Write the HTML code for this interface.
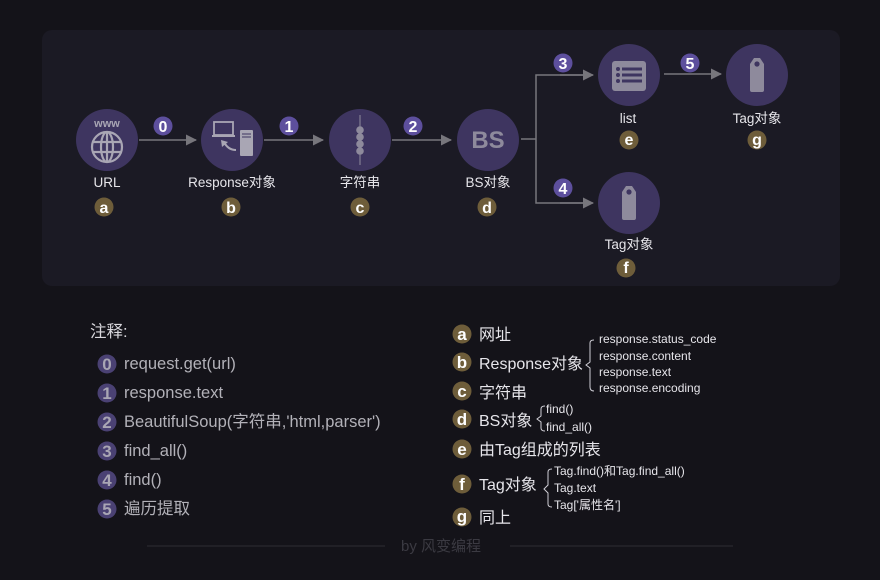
<!DOCTYPE html>
<html><head><meta charset="utf-8"><style>
html,body{margin:0;padding:0;background:#141319;}
svg{display:block;font-family:"Liberation Sans","Noto Sans CJK SC",sans-serif;}
</style></head><body>
<svg width="880" height="580" viewBox="0 0 880 580" xmlns="http://www.w3.org/2000/svg">
<defs>
<marker id="ah" markerWidth="11" markerHeight="11" refX="10" refY="5.5" orient="auto" markerUnits="userSpaceOnUse">
<path d="M0,0 L11,5.5 L0,11 Z" fill="#77767c"/></marker>
<g id="tag"><path d="M-7,-11 L-3,-17 L3,-17 L7,-11 L7,15 Q7,17 5,17 L-5,17 Q-7,17 -7,15 Z" fill="#8e8a9c"/><circle cx="0" cy="-11" r="2.6" fill="#3e3560"/></g>
</defs>
<rect x="0" y="0" width="880" height="580" fill="#141319"/>
<rect x="42" y="30" width="798" height="256" rx="10" fill="#1b1a24"/>

<g stroke="#77767c" stroke-width="1.5" fill="none">
<line x1="139" y1="140" x2="196" y2="140" marker-end="url(#ah)"/>
<line x1="264" y1="140" x2="323" y2="140" marker-end="url(#ah)"/>
<line x1="392" y1="140" x2="451" y2="140" marker-end="url(#ah)"/>
<polyline points="521,139 536,139"/>
<polyline points="591,75 536,75 536,203 591,203" />
<line x1="560" y1="75" x2="593" y2="75" marker-end="url(#ah)"/>
<line x1="560" y1="203" x2="593" y2="203" marker-end="url(#ah)"/>
<line x1="664" y1="74" x2="721" y2="74" marker-end="url(#ah)"/>
</g>

<g fill="#3e3560">
<circle cx="107" cy="140" r="31"/><circle cx="232" cy="140" r="31"/>
<circle cx="360" cy="140" r="31"/><circle cx="488" cy="140" r="31"/>
<circle cx="629" cy="75" r="31"/><circle cx="757" cy="75" r="31"/>
<circle cx="629" cy="203" r="31"/>
</g>

<text x="107" y="127" text-anchor="middle" font-size="11" font-weight="bold" fill="#a9a6b4">www</text>
<g stroke="#a9a6b4" stroke-width="2.2" fill="none">
<circle cx="107" cy="147" r="15"/><ellipse cx="107" cy="147" rx="6" ry="15"/>
<line x1="107" y1="132" x2="107" y2="162"/><line x1="92" y1="142" x2="122" y2="142"/><line x1="92" y1="152" x2="122" y2="152"/></g>
<rect x="214" y="122" width="19" height="13" fill="none" stroke="#a9a6b4" stroke-width="1.8"/>
<rect x="212" y="135" width="23" height="2" fill="#a9a6b4"/>
<rect x="240" y="130" width="13" height="26" rx="1" fill="#a9a6b4"/>
<line x1="242" y1="134" x2="251" y2="134" stroke="#3e3560"/><line x1="242" y1="137" x2="251" y2="137" stroke="#3e3560"/>
<path d="M236,150 Q228,150 224,142" stroke="#a9a6b4" stroke-width="2" fill="none"/>
<path d="M221,140 L228,142 L222,147 Z" fill="#a9a6b4"/>
<line x1="360" y1="115" x2="360" y2="165" stroke="#8e8a9c" stroke-width="1"/>
<g fill="#8e8a9c"><circle cx="360" cy="130" r="3.8"/><circle cx="360" cy="137" r="3.8"/><circle cx="360" cy="144" r="3.8"/><circle cx="360" cy="151" r="3.8"/></g>
<text x="488" y="148" text-anchor="middle" font-size="24" font-weight="600" fill="#8e8a9c">BS</text>
<rect x="612" y="61" width="34" height="30" rx="3" fill="#8e8a9c"/>
<g fill="#3e3560"><circle cx="618" cy="69" r="2"/><circle cx="618" cy="75" r="2"/><circle cx="618" cy="81" r="2"/>
<rect x="622" y="67.5" width="20" height="3"/><rect x="622" y="73.5" width="20" height="3"/><rect x="622" y="79.5" width="20" height="3"/></g>
<use href="#tag" x="757" y="75"/>
<use href="#tag" x="629" y="203"/>

<g font-size="13.5" fill="#e6e5ea" text-anchor="middle">
<text x="107" y="187">URL</text><text x="232" y="187">Response对象</text>
<text x="360" y="187">字符串</text><text x="488" y="187">BS对象</text>
<text x="628" y="123">list</text><text x="757" y="123">Tag对象</text>
<text x="629" y="249">Tag对象</text>
</g>

<g fill="#5d4f9d">
<circle cx="163" cy="126" r="9.5"/><circle cx="289" cy="126" r="9.5"/><circle cx="413" cy="126" r="9.5"/>
<circle cx="563" cy="63" r="9.5"/><circle cx="563" cy="188" r="9.5"/><circle cx="690" cy="63" r="9.5"/>
</g>
<g font-size="16" font-weight="bold" fill="#ffffff" text-anchor="middle">
<text x="163" y="132">0</text><text x="289" y="132">1</text><text x="413" y="132">2</text>
<text x="563" y="69">3</text><text x="563" y="194">4</text><text x="690" y="69">5</text>
</g>
<g fill="#6e5d3a">
<circle cx="104" cy="207" r="9.5"/><circle cx="231" cy="207" r="9.5"/><circle cx="360" cy="207" r="9.5"/>
<circle cx="487" cy="207" r="9.5"/><circle cx="629" cy="140" r="9.5"/><circle cx="757" cy="140" r="9.5"/>
<circle cx="626" cy="268" r="9.5"/>
</g>
<g font-size="16" font-weight="bold" fill="#ffffff" text-anchor="middle">
<text x="104" y="213">a</text><text x="231" y="213">b</text><text x="360" y="213">c</text><text x="487" y="213">d</text>
<text x="629" y="145">e</text><text x="757" y="145">g</text><text x="626" y="273">f</text>
</g>

<text x="90" y="337" font-size="16.5" fill="#d8d7dc">注释:</text>
<g fill="#4a4173">
<circle cx="107" cy="364" r="9.5"/><circle cx="107" cy="393" r="9.5"/><circle cx="107" cy="422" r="9.5"/>
<circle cx="107" cy="451" r="9.5"/><circle cx="107" cy="480" r="9.5"/><circle cx="107" cy="509" r="9.5"/>
</g>
<g font-size="17" font-weight="bold" fill="#a9a6b4" text-anchor="middle">
<text x="107" y="370">0</text><text x="107" y="399">1</text><text x="107" y="428">2</text>
<text x="107" y="457">3</text><text x="107" y="486">4</text><text x="107" y="515">5</text>
</g>
<g font-size="16.5" fill="#b2b1b8">
<text x="124" y="369">request.get(url)</text>
<text x="124" y="398">response.text</text>
<text x="124" y="427">BeautifulSoup(字符串,'html,parser')</text>
<text x="124" y="456">find_all()</text>
<text x="124" y="485">find()</text>
<text x="124" y="514">遍历提取</text>
</g>

<g fill="#6e5d3a">
<circle cx="462" cy="334" r="9.5"/><circle cx="462" cy="362" r="9.5"/><circle cx="462" cy="391" r="9.5"/>
<circle cx="462" cy="419" r="9.5"/><circle cx="462" cy="449" r="9.5"/><circle cx="462" cy="484" r="9.5"/>
<circle cx="462" cy="517" r="9.5"/>
</g>
<g font-size="17" font-weight="bold" fill="#ffffff" text-anchor="middle">
<text x="462" y="340">a</text><text x="462" y="368">b</text><text x="462" y="397">c</text>
<text x="462" y="425">d</text><text x="462" y="455">e</text><text x="462" y="490">f</text><text x="462" y="522">g</text>
</g>
<g font-size="16" fill="#e6e5ea">
<text x="479" y="340">网址</text>
<text x="479" y="369">Response对象</text>
<text x="479" y="398">字符串</text>
<text x="479" y="426">BS对象</text>
<text x="479" y="455">由Tag组成的列表</text>
<text x="479" y="490">Tag对象</text>
<text x="479" y="523">同上</text>
</g>
<g stroke="#d0cfd6" stroke-width="1" fill="none">
<path d="M594,340 Q590,340 590,343 L590,362 L586,365 L590,368 L590,387 Q590,391 594,391"/>
<path d="M545,406 Q541,406 541,409 L541,416 L537,419 L541,422 L541,428 Q541,431 545,431"/>
<path d="M552,469 Q548,469 548,472 L548,485 L544,489 L548,493 L548,504 Q548,507 552,507"/>
</g>
<g font-size="12" fill="#e6e5ea">
<text x="599" y="343">response.status_code</text>
<text x="599" y="360">response.content</text>
<text x="599" y="376">response.text</text>
<text x="599" y="392">response.encoding</text>
<text x="546" y="413">find()</text>
<text x="546" y="431">find_all()</text>
<text x="554" y="475">Tag.find()和Tag.find_all()</text>
<text x="554" y="492">Tag.text</text>
<text x="554" y="509">Tag['属性名']</text>
</g>

<line x1="147" y1="546" x2="385" y2="546" stroke="#2e2d34"/>
<line x1="510" y1="546" x2="733" y2="546" stroke="#2e2d34"/>
<text x="441" y="551" text-anchor="middle" font-size="15" fill="#3b3a42">by 风变编程</text>
</svg>
</body></html>
